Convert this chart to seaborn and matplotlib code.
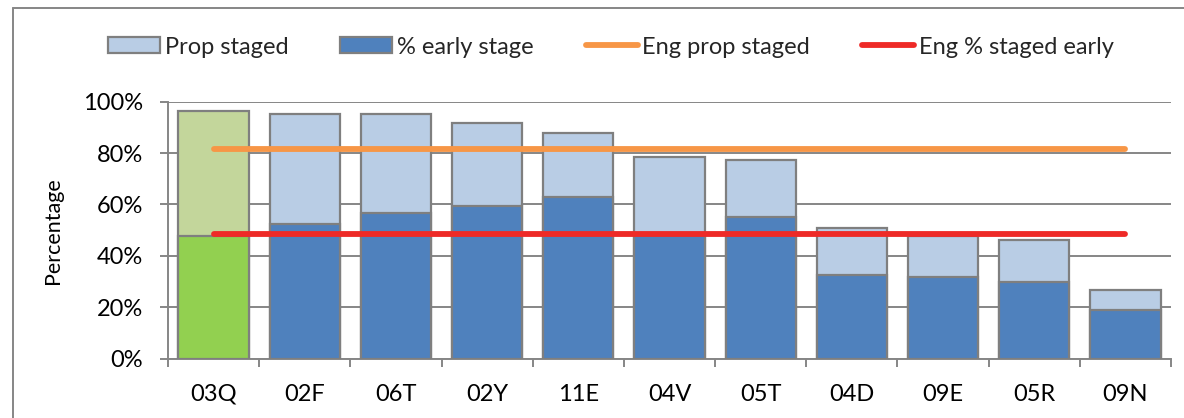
import numpy as np
import pandas as pd
import matplotlib
matplotlib.use("Agg")
import matplotlib.pyplot as plt
from matplotlib.patches import Patch
from matplotlib.lines import Line2D
from matplotlib.ticker import PercentFormatter, FixedLocator, NullFormatter
import seaborn as sns

# Practice codes, ordered by proportion of cancers staged
categories = ["03Q", "02F", "06T", "02Y", "11E", "04V", "05T", "04D", "09E", "05R", "09N"]
prop_staged = [96.5, 95.3, 95.3, 91.8, 87.9, 78.6, 77.2, 51.0, 47.9, 46.3, 26.8]
early_stage = [47.9, 52.4, 56.7, 59.3, 63.0, 48.0, 55.3, 32.6, 31.7, 29.7, 18.9]

# England benchmarks
eng_prop_staged = 81.7
eng_early = 48.4

# Highlighted practice shown in green
highlight = "03Q"
light_colors = ["#C3D69B" if c == highlight else "#B9CDE5" for c in categories]
dark_colors = ["#92D050" if c == highlight else "#4F81BD" for c in categories]

GRID = "#868686"
EDGE = "#7F7F7F"
FS = 17

sns.set_theme(style="white")
plt.rcParams["font.family"] = ["Lato", "DejaVu Sans"]

fig = plt.figure(figsize=(11.84, 4.18), dpi=100)
ax = fig.add_axes([168 / 1184, (418 - 358.7) / 418, 1003 / 1184, 257 / 418])

df = pd.DataFrame({"practice": categories, "prop": prop_staged, "early": early_stage})

sns.barplot(data=df, x="practice", y="prop", hue="practice", palette=light_colors,
            saturation=1, legend=False, width=0.77, edgecolor=EDGE, linewidth=1.6,
            ax=ax, zorder=2)
sns.barplot(data=df, x="practice", y="early", hue="practice", palette=dark_colors,
            saturation=1, legend=False, width=0.77, edgecolor=EDGE, linewidth=1.6,
            ax=ax, zorder=3)

pos = np.arange(len(categories))
sns.lineplot(x=pos, y=np.full(len(categories), eng_prop_staged), color="#F79646",
             linewidth=4.2, ax=ax, zorder=5)
sns.lineplot(x=pos, y=np.full(len(categories), eng_early), color="#EE2A27",
             linewidth=4.2, ax=ax, zorder=5)
for ln in ax.lines:
    ln.set_solid_capstyle("round")

ax.set_xlim(-0.5, len(categories) - 0.5)
ax.set_ylim(0, 100)
ax.yaxis.set_major_locator(FixedLocator([0, 20, 40, 60, 80, 100]))
ax.yaxis.set_major_formatter(PercentFormatter(decimals=0))
ax.yaxis.grid(True, color=GRID, linewidth=1.4, zorder=0)
ax.set_axisbelow(True)

for s in ["top", "right"]:
    ax.spines[s].set_visible(False)
for s in ["left", "bottom"]:
    ax.spines[s].set_color(GRID)
    ax.spines[s].set_linewidth(1.4)

# Category separators as minor ticks below the axis
ax.xaxis.set_minor_locator(FixedLocator(np.arange(-0.5, len(categories), 1.0)))
ax.xaxis.set_minor_formatter(NullFormatter())
ax.tick_params(axis="x", which="minor", bottom=True, length=6, width=1.4, color=GRID, direction="out")
ax.tick_params(axis="x", which="major", bottom=True, length=0, pad=18, labelsize=FS, labelcolor="black")
ax.tick_params(axis="y", which="major", left=True, length=6, width=1.4, color=GRID,
               direction="out", pad=12, labelsize=FS, labelcolor="black")

ax.set_xlabel("")
ax.set_ylabel("Percentage", fontsize=15.5, color="black")
ax.yaxis.set_label_coords((63 - 168) / 1003, 0.5)

handles = [
    Patch(facecolor="#B9CDE5", edgecolor=EDGE, linewidth=1.6, label="Prop staged"),
    Patch(facecolor="#4F81BD", edgecolor=EDGE, linewidth=1.6, label="% early stage"),
    Line2D([], [], color="#F79646", linewidth=4.2, solid_capstyle="round", label="Eng prop staged"),
    Line2D([], [], color="#EE2A27", linewidth=4.2, solid_capstyle="round", label="Eng % staged early"),
]
fig.legend(handles=handles, loc="center", bbox_to_anchor=(0.516, 1 - 47 / 418),
           bbox_transform=fig.transFigure, ncol=4, frameon=False, fontsize=FS,
           handlelength=2.2, handleheight=0.65, handletextpad=0.2, columnspacing=2.2)

# Chart area frame (left and top edges)
fig.add_artist(Line2D([13 / 1184, 13 / 1184], [0, 1 - 8 / 418], transform=fig.transFigure,
                      color=GRID, linewidth=1.4))
fig.add_artist(Line2D([13 / 1184, 1], [1 - 8 / 418, 1 - 8 / 418], transform=fig.transFigure,
                      color=GRID, linewidth=1.4))

fig.savefig("out.png", dpi=100)
